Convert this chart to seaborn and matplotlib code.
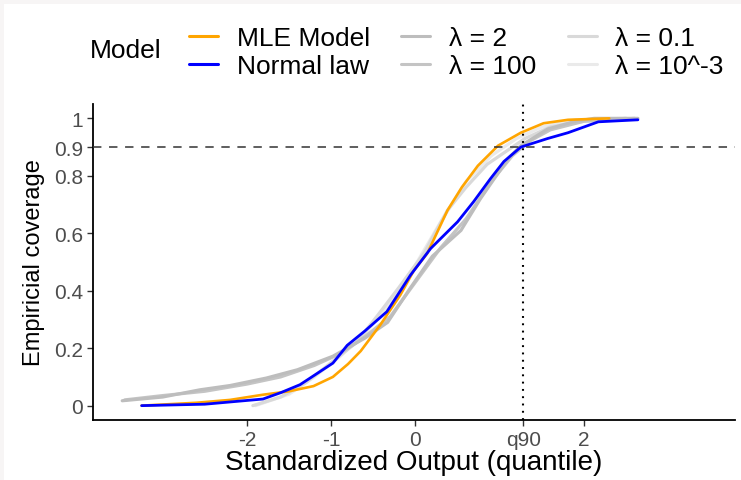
import numpy as np
import pandas as pd
import matplotlib
matplotlib.use("Agg")
import matplotlib.pyplot as plt
from matplotlib.lines import Line2D
from matplotlib.patches import Rectangle
import seaborn as sns

# ---------------- data ----------------
mle_x = [-3.25, -2.6, -2.2, -1.81, -1.5, -1.21, -0.98, -0.8, -0.65, -0.42, -0.18, -0.02, 0.14, 0.38, 0.55, 0.74, 0.98, 1.25, 1.52, 1.81, 2.3]
mle_y = [0.0, 0.01, 0.02, 0.038, 0.05, 0.068, 0.10, 0.145, 0.19, 0.28, 0.385, 0.47, 0.53, 0.68, 0.76, 0.835, 0.905, 0.95, 0.983, 0.995, 1.0]

normal_x = [-3.25, -2.5, -1.81, -1.6, -1.37, -0.98, -0.81, -0.6, -0.34, -0.06, 0.18, 0.5, 0.69, 0.89, 1.05, 1.25, 1.57, 1.81, 2.17, 2.64]
normal_y = [0.0, 0.005, 0.023, 0.045, 0.073, 0.148, 0.21, 0.26, 0.327, 0.454, 0.547, 0.64, 0.71, 0.79, 0.85, 0.90, 0.93, 0.95, 0.988, 0.995]

lam2_x = [-3.48, -3.0, -2.56, -2.2, -1.77, -1.4, -0.98, -0.6, -0.33, -0.06, 0.2, 0.54, 0.77, 1.1, 1.25, 1.57, 1.9, 2.12, 2.64]
lam2_y = [0.017, 0.03, 0.055, 0.07, 0.096, 0.125, 0.172, 0.235, 0.29, 0.41, 0.52, 0.61, 0.72, 0.86, 0.905, 0.963, 0.99, 1.0, 1.0]

lam100_x = [-3.45, -3.0, -2.5, -2.0, -1.6, -1.2, -0.9, -0.6, -0.3, 0.0, 0.3, 0.6, 0.9, 1.15, 1.35, 1.6, 2.0, 2.6]
lam100_y = [0.02, 0.035, 0.05, 0.075, 0.1, 0.14, 0.18, 0.24, 0.31, 0.43, 0.55, 0.65, 0.78, 0.87, 0.92, 0.96, 0.99, 1.0]

lam01_x = [-1.93, -1.6, -1.3, -1.0, -0.7, -0.46, -0.2, 0.1, 0.38, 0.6, 0.85, 1.1, 1.3, 1.6, 2.0, 2.5]
lam01_y = [0.0, 0.03, 0.08, 0.15, 0.22, 0.31, 0.41, 0.53, 0.68, 0.76, 0.84, 0.89, 0.93, 0.97, 0.99, 1.0]

lam1e3_x = [-1.9, -1.5, -1.2, -0.9, -0.6, -0.3, 0.0, 0.3, 0.6, 0.9, 1.2, 1.5, 1.9, 2.5]
lam1e3_y = [0.0, 0.04, 0.1, 0.17, 0.25, 0.36, 0.49, 0.64, 0.78, 0.87, 0.93, 0.97, 0.995, 1.0]

models = ["MLE Model", "Normal law", "λ = 2", "λ = 100", "λ = 0.1", "λ = 10^-3"]
colors = ["#FFA500", "#0000FF", "#BDBDBD", "#C4C4C4", "#D9D9D9", "#EAEAEA"]

q90 = 1.2816
x_ticks = [-2, -1, 0, q90, 2]
x_tick_labels = ["-2", "-1", "0", "q90", "2"]
y_ticks = [0, 0.2, 0.4, 0.6, 0.8, 0.9, 1]
y_tick_labels = ["0", "0.2", "0.4", "0.6", "0.8", "0.9", "1"]

series = {
    "MLE Model": (mle_x, mle_y),
    "Normal law": (normal_x, normal_y),
    "λ = 2": (lam2_x, lam2_y),
    "λ = 100": (lam100_x, lam100_y),
    "λ = 0.1": (lam01_x, lam01_y),
    "λ = 10^-3": (lam1e3_x, lam1e3_y),
}
frames = []
for m in models:
    xs, ys = series[m]
    frames.append(pd.DataFrame({"x": xs, "y": ys, "Model": m}))
df = pd.concat(frames, ignore_index=True)
palette = dict(zip(models, colors))
widths = {"MLE Model": 1.9, "Normal law": 2.0, "λ = 2": 2.3, "λ = 100": 2.3, "λ = 0.1": 2.3, "λ = 10^-3": 2.3}

# ---------------- figure ----------------
sns.set_theme(style="white")
plt.rcParams["font.family"] = ["Liberation Sans", "DejaVu Sans"]
plt.rcParams["text.color"] = "black"

W, H = 741, 481
fig = plt.figure(figsize=(W / 100, H / 100), dpi=100, facecolor="#F7F5F5")
fig.add_artist(Rectangle((4 / W, 0), 1 - 4 / W, 1 - 5 / H, transform=fig.transFigure,
                         facecolor="white", edgecolor="none", zorder=-10))

ax_l, ax_r, ax_t, ax_b = 93, 735, 105, 421
ax = fig.add_axes([ax_l / W, 1 - ax_b / H, (ax_r - ax_l) / W, (ax_b - ax_t) / H])
ax.set_zorder(2)
ax.set_facecolor("white")

draw_order = ["λ = 10^-3", "λ = 0.1", "λ = 100", "λ = 2", "MLE Model", "Normal law"]
for m in draw_order:
    sub = df[df["Model"] == m]
    sns.lineplot(data=sub, x="x", y="y", color=palette[m], lw=widths[m], sort=False,
                 estimator=None, ax=ax, legend=False)

ax.axhline(0.9, color="#333333", lw=1.1, dashes=(5.5, 5.0), zorder=5)
ax.axvline(q90, color="black", lw=1.5, dashes=(0.9, 2.6), zorder=5)

ax.set_xlim(-3.827, 3.792)
ax.set_ylim(-0.05, 1.05)
ax.set_xticks(x_ticks)
ax.set_xticklabels(x_tick_labels)
ax.set_yticks(y_ticks)
ax.set_yticklabels(y_tick_labels)
ax.tick_params(axis="both", which="major", length=4, width=1, color="#333333",
               labelsize=15, labelcolor="#4D4D4D", pad=3, bottom=True, left=True)

for s in ["top", "right"]:
    ax.spines[s].set_visible(False)
for s in ["left", "bottom"]:
    ax.spines[s].set_color("black")
    ax.spines[s].set_linewidth(1.3)

ax.set_xlabel("Standardized Output (quantile)", fontsize=20, color="black", labelpad=0)
ax.set_ylabel("Empiricial coverage", fontsize=17, color="black")
ax.yaxis.set_label_coords((45 - ax_l) / (ax_r - ax_l), 0.5)

# legend
handles = [Line2D([0], [0], color=palette[m], lw=2.2) for m in models]
leg = fig.legend(handles, models, loc="upper left", bbox_to_anchor=(189 / W, 1 - 27 / H),
                 ncol=3, frameon=False, fontsize=19, handlelength=1.1, handletextpad=0.7,
                 columnspacing=1.2, labelspacing=0.15, borderpad=0, borderaxespad=0)
for t in leg.get_texts():
    t.set_color("black")
fig.text(90 / W, 1 - 51 / H, "Model", fontsize=19, ha="left", va="center", color="black")

fig.savefig("out.png", dpi=100, facecolor=fig.get_facecolor())
